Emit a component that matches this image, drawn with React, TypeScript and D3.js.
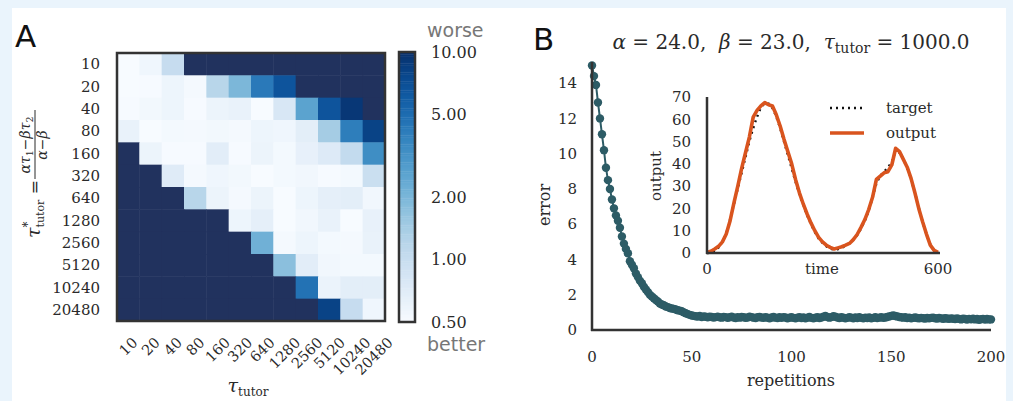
import React from "react";
import * as d3 from "d3";

const tauLabels = ["10", "20", "40", "80", "160", "320", "640", "1280", "2560", "5120", "10240", "20480"];
const N = null;
// rows: tau*_tutor (10 .. 20480), columns: tau_tutor (10 .. 20480); null = diverged (over range)
const heatRows: (number | null)[][] = [
  [0.5, 0.56, 1.03, N, N, N, N, N, N, N, N, N],
  [0.5, 0.51, 0.58, 0.52, 1.19, 1.98, 4.3, 6.6, N, N, N, N],
  [0.51, 0.54, 0.58, 0.51, 0.59, 0.62, 0.5, 0.8, 2.6, 6.6, 9.2, N],
  [0.62, 0.5, 0.53, 0.52, 0.54, 0.52, 0.58, 0.56, 0.68, 1.43, 4.1, 8.1],
  [N, 0.59, 0.51, 0.51, 0.69, 0.51, 0.59, 0.53, 0.64, 0.74, 1.06, 3.4],
  [N, N, 0.72, 0.52, 0.56, 0.54, 0.5, 0.53, 0.55, 0.51, 0.53, 0.97],
  [N, N, N, 1.19, 0.59, 0.52, 0.59, 0.5, 0.58, 0.66, 0.68, 0.55],
  [N, N, N, N, N, 0.58, 0.66, 0.5, 0.55, 0.62, 0.5, 0.63],
  [N, N, N, N, N, N, 2.18, 0.52, 0.58, 0.53, 0.52, 0.62],
  [N, N, N, N, N, N, N, 1.76, 0.69, 0.55, 0.53, 0.53],
  [N, N, N, N, N, N, N, N, 4.7, 0.6, 0.68, 0.68],
  [N, N, N, N, N, N, N, N, N, 8.1, 1.03, 0.56],
];
const cbarTicks = [0.5, 1, 2, 5, 10];

const errorValues = [
  15.0, 14.4, 13.9, 12.9, 12.0, 11.1, 10.2, 9.2, 8.5, 8.0,
  7.4, 6.9, 6.5, 6.2, 5.8, 5.3, 4.9, 4.6, 4.35, 3.9,
  3.7, 3.5, 3.2, 3.0, 2.8, 2.65, 2.45, 2.3, 2.15, 2.0,
  1.9, 1.8, 1.7, 1.62, 1.5, 1.45, 1.4, 1.33, 1.3, 1.25,
  1.22, 1.2, 1.16, 1.12, 1.1, 1.06, 1.0, 0.95, 0.9, 0.86,
  0.82, 0.8, 0.78, 0.76, 0.79, 0.74, 0.77, 0.75, 0.72, 0.76,
  0.74, 0.71, 0.73, 0.76, 0.72, 0.7, 0.74, 0.73, 0.69, 0.72,
  0.75, 0.71, 0.68, 0.73, 0.7, 0.74, 0.72, 0.69, 0.71, 0.76,
  0.73, 0.7, 0.68, 0.72, 0.74, 0.71, 0.69, 0.73, 0.7, 0.67,
  0.71, 0.74, 0.7, 0.68, 0.72, 0.69, 0.73, 0.71, 0.67, 0.7,
  0.72, 0.69, 0.66, 0.7, 0.73, 0.68, 0.71, 0.67, 0.7, 0.74,
  0.69, 0.66, 0.7, 0.72, 0.68, 0.71, 0.75, 0.79, 0.74, 0.7,
  0.73, 0.78, 0.75, 0.71, 0.68, 0.72, 0.7, 0.66, 0.69, 0.73,
  0.7, 0.67, 0.71, 0.68, 0.72, 0.69, 0.66, 0.7, 0.68, 0.71,
  0.67, 0.69, 0.72, 0.68, 0.7, 0.73, 0.69, 0.71, 0.74, 0.77,
  0.8, 0.82, 0.79, 0.77, 0.74, 0.72, 0.7, 0.72, 0.68, 0.7,
  0.67, 0.69, 0.71, 0.68, 0.66, 0.69, 0.67, 0.65, 0.68, 0.66,
  0.69, 0.7, 0.67, 0.65, 0.68, 0.66, 0.64, 0.67, 0.65, 0.63,
  0.66, 0.64, 0.62, 0.65, 0.63, 0.6, 0.64, 0.62, 0.59, 0.63,
  0.61, 0.64, 0.6, 0.62, 0.58, 0.61, 0.63, 0.59, 0.62, 0.6, 0.6,
];
const errorXTicks = [0, 50, 100, 150, 200];
const errorYTicks = [0, 2, 4, 6, 8, 10, 12, 14];

const timeSteps = [
  0, 10, 20, 30, 40, 50, 60, 70, 80, 90, 100, 110, 120, 130, 140, 150, 160, 170, 180, 190,
  200, 210, 220, 230, 240, 250, 260, 270, 280, 290, 300, 310, 320, 330, 340, 350, 360, 370, 380, 390,
  400, 410, 420, 430, 440, 450, 460, 470, 480, 490, 500, 510, 520, 530, 540, 550, 560, 570, 580, 590, 600,
];
const targetValues = [
  0, 0.3, 1, 2.5, 5, 9, 15, 22, 29, 36, 43, 50, 56, 61, 65, 67, 67, 65, 61, 56,
  50, 44, 38, 32, 26.5, 21.5, 17, 13, 9.5, 6.5, 4.5, 3, 2, 1.6, 1.8, 2.4, 3.3, 4.5, 6, 8,
  11, 14.5, 19, 25, 31, 34.5, 36.5, 38.5, 41, 45, 45, 42, 38, 33, 27, 20.5, 14, 8.5, 4, 1.2, 0,
];
const outputValues = [
  0.2, 0.8, 1.8, 3, 5, 8.5, 14.5, 22.5, 30, 38, 45, 52, 61, 64, 66, 67.5, 66.5, 66, 62, 57,
  51, 45.5, 40, 33, 27, 22, 17.5, 13.5, 10, 7, 5, 3.5, 2.5, 1.8, 2.3, 2.8, 3.5, 4.3, 6, 8.3,
  11.5, 15, 19.5, 25, 33, 34.5, 36, 36.5, 39.5, 47, 45.5, 42, 38.5, 33.5, 27, 20, 14, 8.5, 3.5, 1.2, 0.3,
];
const insetYTicks = [0, 10, 20, 30, 40, 50, 60, 70];
const insetXTicks = [0, 600];

const SERIF = "'DejaVu Serif', serif";
const SANS = "'DejaVu Sans', sans-serif";
const TXT = "#2a2a2a";
const SPINE = "#333333";
const OVER = "#21325e";
const TEAL = "#2d5c66";
const ORANGE = "#d9541e";

export default function App() {
  // ---- Panel A ----
  const xBand = d3.scaleBand<string>().domain(tauLabels).range([117, 385]);
  const yBand = d3.scaleBand<string>().domain(tauLabels).range([53, 321]);
  const cNorm = d3.scaleLog().domain([0.5, 10]).range([0, 1]).clamp(true);
  const color = (v: number | null) => (v == null ? OVER : d3.interpolateBlues(cNorm(v)));
  const cbY = d3.scaleLog().domain([0.5, 10]).range([322, 52]);
  const cbSlices = d3.range(0, 120);
  const xFs = 14.5;
  const dW = 0.636 * xFs;

  // ---- Panel B ----
  const ex = d3.scaleLinear().domain([0, 200]).range([592, 991]);
  const ey = d3.scaleLinear().domain([0, 15.2]).range([330, 62]);
  const errLine = d3
    .line<number>()
    .x((_, i) => ex(i))
    .y((d) => ey(d));

  const ix = d3.scaleLinear().domain([0, 600]).range([707, 938]);
  const iy = d3.scaleLinear().domain([0, 70]).range([253, 97]);
  const tLine = d3
    .line<number>()
    .x((_, i) => ix(timeSteps[i]))
    .y((d) => iy(d))
    .curve(d3.curveCatmullRom);
  const oLine = d3
    .line<number>()
    .x((_, i) => ix(timeSteps[i]))
    .y((d) => iy(d));

  return (
    <div style={{ position: "absolute", left: 0, top: 0 }}>
      <svg width={1013} height={401} style={{ display: "block" }}>
        <rect x={0} y={0} width={1013} height={401} fill="#eaf4fc" />
        <rect x={12} y={8} width={994} height={393} fill="#ffffff" />

        {/* Panel A */}
        <text x={15} y={47} fontFamily={SANS} fontSize={31} fill="#111">A</text>
        {heatRows.map((row, ri) =>
          row.map((v, ci) => (
            <rect
              key={`c${ri}-${ci}`}
              x={xBand(tauLabels[ci])!}
              y={yBand(tauLabels[ri])!}
              width={xBand.bandwidth() + 0.5}
              height={yBand.bandwidth() + 0.5}
              fill={color(v)}
            />
          ))
        )}
        <rect x={117} y={53} width={268} height={268} fill="none" stroke={SPINE} strokeWidth={2.5} />
        {tauLabels.map((l) => (
          <text
            key={`yl${l}`}
            x={100}
            y={yBand(l)! + yBand.bandwidth() / 2}
            dy="0.35em"
            textAnchor="end"
            fontFamily={SERIF}
            fontSize={15}
            fill={TXT}
          >
            {l}
          </text>
        ))}
        {tauLabels.map((l) => {
          const L = l.length * dW;
          const a = 0.73 * xFs;
          const ax = xBand(l)! + xBand.bandwidth() / 2 + (0.707 * (L + a)) / 2;
          const ay = 336 + 0.707 * a;
          return (
            <text
              key={`xl${l}`}
              x={ax}
              y={ay}
              textAnchor="end"
              transform={`rotate(-45 ${ax} ${ay})`}
              fontFamily={SERIF}
              fontSize={xFs}
              fill={TXT}
            >
              {l}
            </text>
          );
        })}
        {/* x label tau_tutor */}
        <text x={248} y={392} textAnchor="middle" fontFamily={SERIF} fontSize={19} fill={TXT}>
          <tspan fontStyle="italic">τ</tspan>
          <tspan fontSize={12} dy={4}>tutor</tspan>
        </text>
        {/* y label */}
        <g transform="translate(38,172) rotate(-90)" fontFamily={SERIF} fill={TXT}>
          <text x={-66} y={2} fontSize={19}>
            <tspan fontStyle="italic">τ</tspan>
            <tspan fontSize={12} dy={-8}>*</tspan>
            <tspan fontSize={11} dx={-6} dy={12}>tutor</tspan>
            <tspan fontSize={17} dy={-4}>{"\u00a0=\u00a0"}</tspan>
          </text>
          <text x={27} y={-8} fontSize={14} textAnchor="middle">
            <tspan fontStyle="italic">ατ</tspan>
            <tspan fontSize={9.5} dy={3}>1</tspan>
            <tspan dy={-3}>−</tspan>
            <tspan fontStyle="italic">βτ</tspan>
            <tspan fontSize={9.5} dy={3}>2</tspan>
          </text>
          <line x1={-7} x2={62} y1={-3} y2={-3} stroke={TXT} strokeWidth={1} />
          <text x={27} y={9} fontSize={14} textAnchor="middle">
            <tspan fontStyle="italic">α</tspan>
            <tspan>−</tspan>
            <tspan fontStyle="italic">β</tspan>
          </text>
        </g>

        {/* colorbar */}
        {cbSlices.map((i) => {
          const t0 = i / cbSlices.length;
          const t1 = (i + 1) / cbSlices.length;
          const y0 = 322 - t0 * 270;
          const y1 = 322 - t1 * 270;
          return (
            <rect key={`cb${i}`} x={399} y={y1} width={16} height={y0 - y1 + 0.4} fill={d3.interpolateBlues((t0 + t1) / 2)} />
          );
        })}
        <rect x={399} y={52} width={16} height={270} fill="none" stroke={SPINE} strokeWidth={2.5} />
        {cbarTicks.map((t) => (
          <text key={`cbt${t}`} x={431} y={cbY(t)} dy="0.35em" fontFamily={SERIF} fontSize={16} fill={TXT}>
            {d3.format(".2f")(t)}
          </text>
        ))}
        <text x={427} y={37} fontFamily={SANS} fontSize={19} fill="#777">worse</text>
        <text x={427} y={351} fontFamily={SANS} fontSize={19} fill="#777">better</text>

        {/* Panel B */}
        <text x={533} y={50} fontFamily={SANS} fontSize={31} fill="#111">B</text>
        <text x={791} y={49} textAnchor="middle" fontFamily={SERIF} fontSize={20} fill={TXT}>
          <tspan fontStyle="italic">α</tspan>
          <tspan>{"\u00a0=\u00a024.0,\u00a0\u00a0"}</tspan>
          <tspan fontStyle="italic">β</tspan>
          <tspan>{"\u00a0=\u00a023.0,\u00a0\u00a0"}</tspan>
          <tspan fontStyle="italic">τ</tspan>
          <tspan fontSize={14} dy={4}>tutor</tspan>
          <tspan dy={-4}>{"\u00a0=\u00a01000.0"}</tspan>
        </text>

        <path d={errLine(errorValues)!} fill="none" stroke={TEAL} strokeWidth={2} />
        {errorValues.map((v, i) => (
          <circle key={`e${i}`} cx={ex(i)} cy={ey(v)} r={4.2} fill={TEAL} />
        ))}
        <line x1={592} x2={592} y1={62} y2={331} stroke={SPINE} strokeWidth={2.5} />
        <line x1={591} x2={991} y1={330} y2={330} stroke={SPINE} strokeWidth={2.5} />
        {errorYTicks.map((t) => (
          <text key={`ey${t}`} x={577} y={ey(t)} dy="0.35em" textAnchor="end" fontFamily={SERIF} fontSize={15} fill={TXT}>
            {t}
          </text>
        ))}
        {errorXTicks.map((t) => (
          <text key={`ex${t}`} x={ex(t)} y={362} textAnchor="middle" fontFamily={SERIF} fontSize={15} fill={TXT}>
            {t}
          </text>
        ))}
        <text x={791} y={386} textAnchor="middle" fontFamily={SERIF} fontSize={16} fill={TXT}>repetitions</text>
        <text transform="translate(550,205) rotate(-90)" textAnchor="middle" fontFamily={SERIF} fontSize={16} fill={TXT}>error</text>

        {/* inset */}
        <rect x={700} y={92} width={245} height={166} fill="#ffffff" />
        <path d={tLine(targetValues)!} fill="none" stroke="#111" strokeWidth={2.4} strokeDasharray="2 4" />
        <path d={oLine(outputValues)!} fill="none" stroke={ORANGE} strokeWidth={3.6} strokeLinejoin="round" />
        <line x1={707} x2={707} y1={97} y2={254} stroke={SPINE} strokeWidth={2.5} />
        <line x1={706} x2={940} y1={253} y2={253} stroke={SPINE} strokeWidth={2.5} />
        {insetYTicks.map((t) => (
          <text key={`iy${t}`} x={691} y={iy(t)} dy="0.35em" textAnchor="end" fontFamily={SERIF} fontSize={15} fill={TXT}>
            {t}
          </text>
        ))}
        {insetXTicks.map((t) => (
          <text key={`ix${t}`} x={ix(t)} y={274} textAnchor="middle" fontFamily={SERIF} fontSize={15} fill={TXT}>
            {t}
          </text>
        ))}
        <text x={822} y={274} textAnchor="middle" fontFamily={SERIF} fontSize={15} fill={TXT}>time</text>
        <text transform="translate(661,176) rotate(-90)" textAnchor="middle" fontFamily={SERIF} fontSize={15} fill={TXT}>output</text>
        {/* legend */}
        <line x1={830} x2={864} y1={108} y2={108} stroke="#111" strokeWidth={2.4} strokeDasharray="2 4" />
        <text x={886} y={113} fontFamily={SERIF} fontSize={15} fill={TXT}>target</text>
        <line x1={830} x2={864} y1={133} y2={133} stroke={ORANGE} strokeWidth={3.6} />
        <text x={886} y={138} fontFamily={SERIF} fontSize={15} fill={TXT}>output</text>
      </svg>
    </div>
  );
}
